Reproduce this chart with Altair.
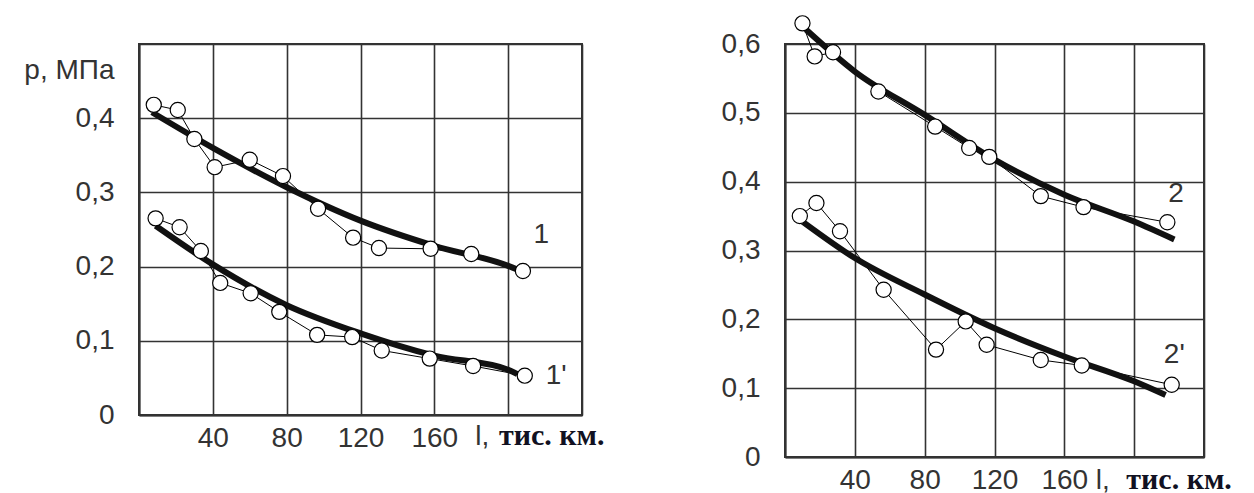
import altair as alt
import pandas as pd

# ---------------- data ----------------
# left panel: curves 1 and 1'
c1_l = [8, 21, 30, 41, 60, 78, 97, 116, 130, 158, 180, 208]
c1_p = [0.418, 0.411, 0.372, 0.334, 0.344, 0.322, 0.278, 0.239, 0.225, 0.224, 0.217, 0.194]
f1_l = [7, 40, 80, 120, 160, 200, 205]
f1_p = [0.408, 0.360, 0.307, 0.262, 0.228, 0.201, 0.196]

c1s_l = [9, 22, 33.5, 44, 60.5, 76, 96.5, 115.5, 131.5, 157.5, 181, 209]
c1s_p = [0.265, 0.253, 0.221, 0.178, 0.164, 0.139, 0.108, 0.105, 0.087, 0.076, 0.066, 0.053]
f1s_l = [9, 40, 80, 120, 160, 200, 205]
f1s_p = [0.255, 0.203, 0.148, 0.110, 0.080, 0.061, 0.055]

# right panel: curves 2 and 2'
c2_l = [10, 17, 27.5, 53.5, 86, 105.5, 117, 146.5, 171, 219]
c2_p = [0.630, 0.582, 0.588, 0.531, 0.480, 0.449, 0.436, 0.379, 0.363, 0.341]
f2_l = [12, 40, 80, 120, 160, 200, 223]
f2_p = [0.621, 0.560, 0.497, 0.432, 0.381, 0.342, 0.316]

c2s_l = [8.5, 18, 31.5, 56.5, 86.5, 103.5, 115.5, 146.5, 170, 221.5]
c2s_p = [0.350, 0.369, 0.328, 0.243, 0.156, 0.197, 0.163, 0.141, 0.133, 0.105]
f2s_l = [10, 40, 80, 120, 160, 200, 218]
f2s_p = [0.342, 0.289, 0.236, 0.187, 0.146, 0.110, 0.090]

x_ticks = [0, 40, 80, 120, 160, 200, 240]
y_ticks_left = [0, 0.1, 0.2, 0.3, 0.4, 0.5]
y_ticks_right = [0, 0.1, 0.2, 0.3, 0.4, 0.5, 0.6]

# curve labels: (l, p, text)
lab_left = [(218, 0.242, "1"), (226, 0.053, "1'")]
lab_right = [(224, 0.382, "2"), (223, 0.148, "2'")]

SANS = "Liberation Sans"
SERIF = "Liberation Serif"
FS = 28
TXT = "#333333"
GRID = "#333333"


def frame(series):
    rows = []
    for name, ls, ps in series:
        for l, p in zip(ls, ps):
            rows.append({"l": l, "p": p, "s": name})
    return pd.DataFrame(rows)


def panel(pts, fits, labels, ymax, yticks, w, h, ytitle, unit_y, unit_l_x, unit_t_x, hide_top, xpad):
    xs = alt.Scale(domain=[0, 240], nice=False)
    ys = alt.Scale(domain=[0, ymax], nice=False)
    if hide_top:
        yexpr = ("datum.value == 0 ? '0' : (datum.value > 0.45 ? '' : "
                 "replace(format(datum.value, '.1f'), '.', ','))")
    else:
        yexpr = "datum.value == 0 ? '0' : replace(format(datum.value, '.1f'), '.', ',')"
    common = dict(labelFont=SANS, labelFontSize=FS, labelColor=TXT,
                  grid=True, gridColor=GRID, gridWidth=1.6, gridOpacity=1,
                  ticks=False, domainColor=GRID, domainWidth=2)
    yaxis_kw = dict(values=yticks, labelExpr=yexpr, labelPadding=25, **common)
    if ytitle:
        yaxis_kw.update(title=ytitle, titleAngle=0, titleAlign="right",
                        titleBaseline="alphabetic", titleX=-25, titleY=34,
                        titleFont=SANS, titleFontSize=FS, titleFontWeight="normal",
                        titleColor=TXT)
    else:
        yaxis_kw.update(title=None)
    X = alt.X("l:Q", scale=xs,
              axis=alt.Axis(values=x_ticks, title=None, labelPadding=xpad,
                            labelExpr="datum.value >= 40 && datum.value <= 160 ? datum.value : ''",
                            **common))
    Y = alt.Y("p:Q", scale=ys, axis=alt.Axis(**yaxis_kw))

    base_pts = alt.Chart(pts)
    thin = base_pts.mark_line(color="black", strokeWidth=1).encode(
        x=X, y=Y, detail="s:N", order="l:Q")
    thick = alt.Chart(fits).mark_line(color="#111111", strokeWidth=6,
                                      interpolate="monotone").encode(
        x="l:Q", y="p:Q", detail="s:N", order="l:Q")
    circ = base_pts.mark_point(shape="circle", filled=True, fill="white",
                               stroke="black", strokeWidth=1.2, size=230,
                               opacity=1).encode(x="l:Q", y="p:Q")
    ldf = pd.DataFrame([{"l": a, "p": b, "t": c} for a, b, c in labels])
    clab = alt.Chart(ldf).mark_text(font=SANS, fontSize=FS, color=TXT,
                                    align="center", baseline="middle").encode(
        x="l:Q", y="p:Q", text="t:N")
    udf1 = pd.DataFrame([{"l": unit_l_x, "p": unit_y, "t": "l,"}])
    udf2 = pd.DataFrame([{"l": unit_t_x, "p": unit_y, "t": "тис. км."}])
    u1 = alt.Chart(udf1).mark_text(font=SANS, fontSize=FS, color=TXT,
                                   align="center", baseline="alphabetic").encode(
        x="l:Q", y="p:Q", text="t:N")
    u2 = alt.Chart(udf2).mark_text(font=SERIF, fontSize=30, fontWeight="bold",
                                   color="#111122", align="left",
                                   baseline="alphabetic").encode(
        x="l:Q", y="p:Q", text="t:N")
    return alt.layer(thin, thick, circ, clab, u1, u2).properties(width=w, height=h)


left_pts = frame([("1", c1_l, c1_p), ("1'", c1s_l, c1s_p)])
left_fit = frame([("1", f1_l, f1_p), ("1'", f1s_l, f1s_p)])
right_pts = frame([("2", c2_l, c2_p), ("2'", c2s_l, c2s_p)])
right_fit = frame([("2", f2_l, f2_p), ("2'", f2s_l, f2s_p)])

left = panel(left_pts, left_fit, lab_left, 0.5, y_ticks_left, 443, 371,
             "р, МПа", -0.041, 186, 195, True, 9)
right = panel(right_pts, right_fit, lab_right, 0.6, y_ticks_right, 419, 413,
              None, -0.047, 182, 195.5, False, 9)

chart = alt.hconcat(left, right, spacing=114).properties(
    padding={"left": 14, "top": 4, "right": 5, "bottom": 5}
).configure_view(stroke=GRID, strokeWidth=2)

chart.save("out.html", embed_options={"renderer": "svg", "actions": False})
